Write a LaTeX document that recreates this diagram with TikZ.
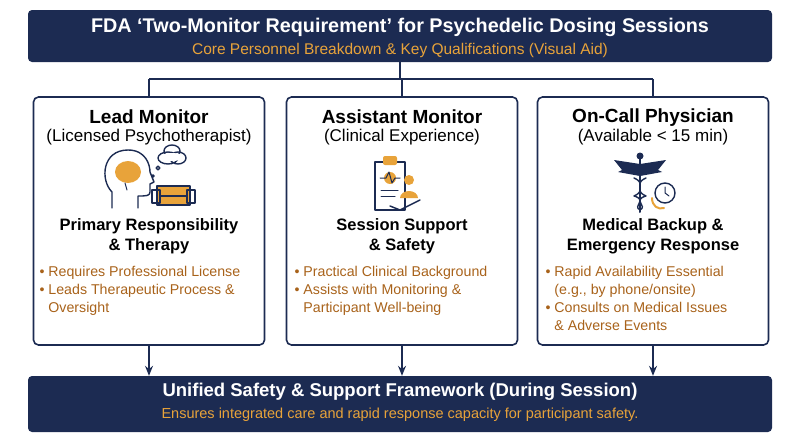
\documentclass[tikz,border=0pt]{standalone}
\usepackage{fontspec}
\setmainfont{Liberation Sans}
\usetikzlibrary{arrows.meta,positioning}
\definecolor{navy}{HTML}{1C2B52}
\definecolor{gold}{HTML}{E8A33A}
\definecolor{brownish}{HTML}{A8621A}
\tikzset{
  banner/.style={fill=navy,rounded corners=4pt,minimum width=744pt,align=center,text=white},
  card/.style={draw=navy,line width=1.6pt,rounded corners=5pt,minimum width=231pt,minimum height=248pt},
  flow/.style={draw=navy,line width=1.3pt},
  icon/.style={draw=navy,line width=1.4pt,line cap=round,line join=round},
  bullets/.style={text=brownish,font=\fontsize{14.2}{18}\selectfont,align=left,anchor=north west}
}
\begin{document}
\begin{tikzpicture}[x=1pt,y=-1pt,>={Stealth[length=10pt,width=8pt]}]
\useasboundingbox (0,0) rectangle (800,447);
% Banners
\node [banner,minimum height=52pt] (top) at (400,36) {};
\node [text=white,font=\bfseries\fontsize{19.8}{22}\selectfont] (title) at (400,27) {FDA ‘Two-Monitor Requirement’ for Psychedelic Dosing Sessions};
\node [text=gold,font=\fontsize{15.5}{17}\selectfont] (subtitle) at (400,50) {Core Personnel Breakdown \& Key Qualifications (Visual Aid)};
\node [banner,minimum height=56pt] (bottom) at (400,404) {};
\node [text=white,font=\bfseries\fontsize{18.5}{21}\selectfont] (btitle) at (400,392) {Unified Safety \& Support Framework (During Session)};
\node [text=gold,font=\fontsize{14.5}{17}\selectfont] (bsub) at (400,415) {Ensures integrated care and rapid response capacity for participant safety.};

% Cards
\node [card] (lead) at (149,221) {};
\node [card] (assist) at (402,221) {};
\node [card] (call) at (653,221) {};
\foreach \c/\t/\s/\h in {lead/Lead Monitor/(Licensed Psychotherapist)/Primary Responsibility\\\& Therapy,
  assist/Assistant Monitor/(Clinical Experience)/Session Support\\\& Safety,
  call/On-Call Physician/(Available < 15 min)/Medical Backup \&\\Emergency Response}{
  \node [font=\bfseries\fontsize{19}{21}\selectfont] at ([yshift=-21pt]\c.north) {\t};
  \node [font=\fontsize{17}{19}\selectfont] at ([yshift=-41pt]\c.north) {\s};
  \node [font=\bfseries\fontsize{16.5}{20}\selectfont,align=center] at ([yshift=-140pt]\c.north) {\h};
}
\node [bullets] at (36,263) {• Requires Professional License\\• Leads Therapeutic Process \&\\\phantom{• }Oversight};
\node [bullets] at (291,263) {• Practical Clinical Background\\• Assists with Monitoring \&\\\phantom{• }Participant Well-being};
\node [bullets] at (542,263) {• Rapid Availability Essential\\\phantom{• }(e.g., by phone/onsite)\\• Consults on Medical Issues\\\phantom{• }\& Adverse Events};

% Connections
\coordinate (split) at (400,79);
\draw [flow] (top.south) -- (split);
\draw [flow] (lead.north |- split) -- (call.north |- split);
\draw [flow] (lead.north |- split) -- (lead.north);
\draw [flow] (assist.north |- split) -- (assist.north);
\draw [flow] (call.north |- split) -- (call.north);
\draw [flow,->] (lead.south) -- (lead.south |- bottom.north);
\draw [flow,->] (assist.south) -- (assist.south |- bottom.north);
\draw [flow,->] (call.south) -- (call.south |- bottom.north);

% Icons: head, couch
\draw [icon] (112,208) -- (112,192) .. controls (100,180) and (102,150) .. (128,150) .. controls (146,150) and (150,165) .. (150,172) -- (154,182) -- (150,184) -- (150,192) .. controls (150,196) and (146,196) .. (138,196) -- (138,208);
\fill [gold] (128,172) ellipse (13pt and 11pt);
\draw [icon,line width=1pt] (125,183) -- (127,190);
\draw [icon,fill=white] (168,158) ellipse (10pt and 6pt) (172,151) ellipse (8pt and 6pt) (178,158) ellipse (8pt and 6pt);
\fill [white] (172,157) ellipse (12pt and 4pt);
\draw [icon] (158,168) circle (1.8pt) (153,176) circle (1.2pt);
\draw [icon,fill=gold] (157,186) rectangle (190,205);
\draw [icon] (152,190) rectangle (160,203) (187,190) rectangle (195,203) (160,196) -- (187,196);
% clipboard, heart, hand
\draw [icon] (375,162) rectangle (405,210);
\fill [gold,rounded corners=2pt] (383,156) rectangle (397,165);
\fill [gold] (390,178) circle (6pt);
\draw [icon,line width=1pt] (380,178) -- (386,178) -- (389,172) -- (392,183) -- (395,178) -- (400,178);
\draw [icon,line width=1pt] (381,190) -- (398,190) (381,196) -- (395,196);
\fill [gold] (409,180) circle (5pt);
\fill [gold] (400,198) arc (180:0:9pt and 7pt) -- cycle;
\draw [icon] (390,206) -- (400,210) -- (420,200);
% caduceus, clock
\draw [icon,line width=2pt] (640,158) -- (640,212);
\fill [navy] (640,156) circle (3.5pt);
\fill [navy] (640,164) -- (614,160) -- (622,170) -- (618,172) -- (640,176) -- cycle;
\fill [navy] (640,164) -- (666,160) -- (658,170) -- (662,172) -- (640,176) -- cycle;
\draw [icon] (634,178) .. controls (648,184) and (632,190) .. (646,196) .. controls (632,200) and (648,206) .. (640,210);
\draw [icon] (646,178) .. controls (632,184) and (648,190) .. (634,196) .. controls (648,200) and (632,206) .. (640,210);
\draw [icon,fill=white] (665,193) circle (10pt);
\draw [icon,line width=1pt] (665,187) -- (665,193) -- (669,196);
\draw [icon,draw=gold,line width=2pt] (652,198) .. controls (652,206) and (658,210) .. (664,208);
\end{tikzpicture}
\end{document}
